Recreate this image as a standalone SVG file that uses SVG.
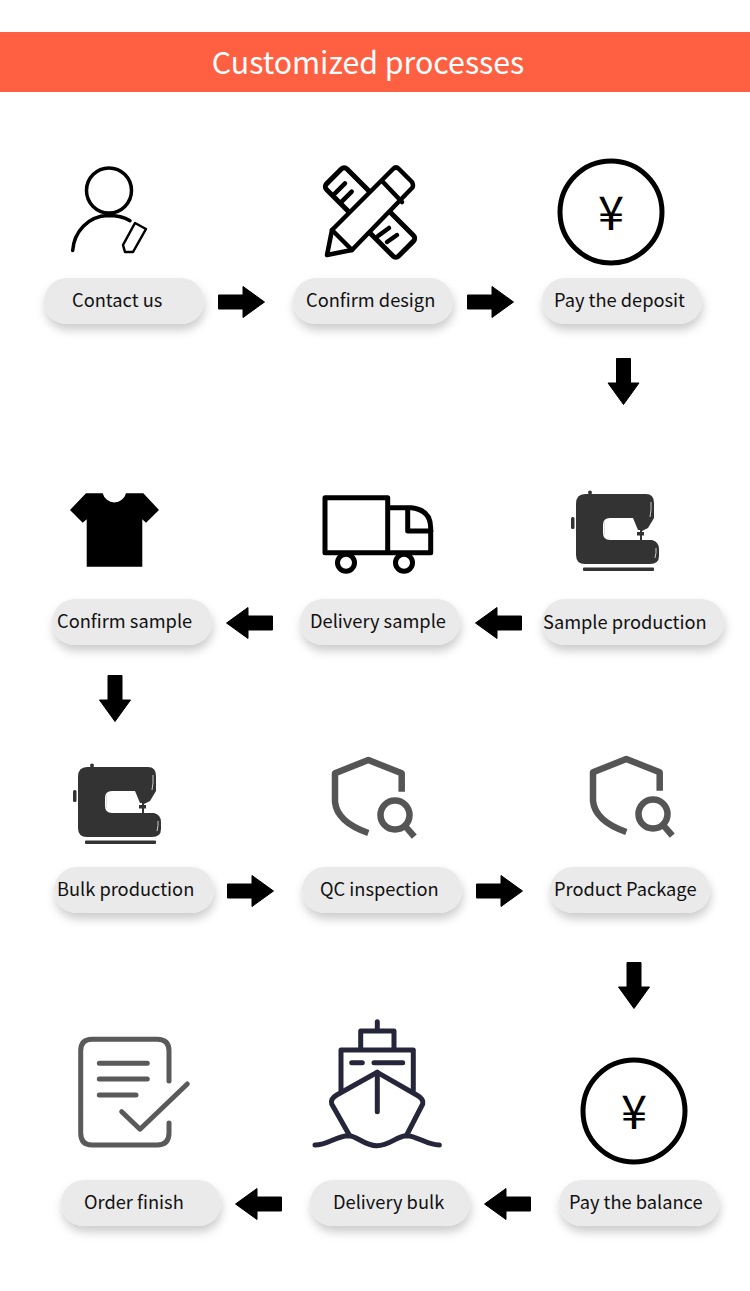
<svg xmlns="http://www.w3.org/2000/svg" xmlns:xlink="http://www.w3.org/1999/xlink" width="750" height="1291" viewBox="0 0 750 1291">
<style>
text{font-family:"Noto Sans CJK SC","Noto Sans",sans-serif;fill:#111}
.lbl{font-size:18.250px}
.pill{fill:#eaeaea;filter:url(#sh)}
.k{fill:none;stroke:#000;stroke-width:5;stroke-linecap:round;stroke-linejoin:round}
.g{fill:none;stroke:#555;stroke-width:6.500;stroke-linejoin:round}
.d{fill:none;stroke:#5a5a5a;stroke-width:5;stroke-linecap:round;stroke-linejoin:round}
.s{fill:none;stroke:#26263a;stroke-width:5;stroke-linecap:round;stroke-linejoin:round}
</style>
<defs>
<filter id="sh" x="-15%" y="-40%" width="130%" height="200%"><feDropShadow dx="1" dy="6" stdDeviation="5" flood-color="#000" flood-opacity=".2"/></filter>
<path id="ar" d="M-23-7H1.500V-15.500L23 0 1.500 15.500V7H-23Z" fill="#000" stroke="#000" stroke-linejoin="round"/>
<g id="coin"><circle r="51" fill="#fff" stroke="#000" stroke-width="5"/><text y="18" text-anchor="middle" font-size="47" style="fill:#000">¥</text></g>
<g id="sew">
<path fill="#333" d="M585 494H646Q654 494 654 503V518L648 528 642 531V540H652Q659 542 659 549V556Q659 564 650 564H585Q576 564 576 555V504Q576 494 585 494Z"/>
<path fill="#fff" d="M610 518H633L638 530H640V540H610Q603 540 603 533V525Q603 518 610 518Z"/>
<path fill="#333" d="M637 532H644V535.500H637Z"/>
<rect x="571" y="517" width="3.500" height="12" rx="1.500" fill="#333"/>
<circle cx="590" cy="492.500" r="2" fill="#333"/>
<rect x="583" y="567.500" width="71" height="3.500" rx="1" fill="#333"/>
<path d="M651 502Q651.500 510 650 517M656 548Q656.500 552 655 558M604.500 522V535" fill="none" stroke="#ddd" stroke-width=".9"/>
</g>
<g id="shield">
<path class="g" d="M401.700 791.700V773.300L368.300 760 335 773.300V802Q337 822 368.300 833"/>
<circle class="g" cx="395" cy="815" r="14.500"/>
<path class="g" d="M405.500 826.500L414.300 836.700"/>
</g>
</defs>
<rect width="750" height="1291" fill="#fff"/>
<g id="banner"><rect y="32" width="750" height="60" fill="#ff6042"/><text x="368" y="74" text-anchor="middle" font-size="30.300" style="fill:#fff">Customized processes</text></g>

<g id="connectors">
<use xlink:href="#ar" href="#ar" transform="translate(241.500 302)"/>
<use xlink:href="#ar" href="#ar" transform="translate(490.500 302)"/>
<use xlink:href="#ar" href="#ar" transform="translate(623.500 381.500) rotate(90)"/>
<use xlink:href="#ar" href="#ar" transform="translate(498.500 623) rotate(180)"/>
<use xlink:href="#ar" href="#ar" transform="translate(249.500 623) rotate(180)"/>
<use xlink:href="#ar" href="#ar" transform="translate(115 698.500) rotate(90)"/>
<use xlink:href="#ar" href="#ar" transform="translate(250.500 891)"/>
<use xlink:href="#ar" href="#ar" transform="translate(499.500 891)"/>
<use xlink:href="#ar" href="#ar" transform="translate(634 985.500) rotate(90)"/>
<use xlink:href="#ar" href="#ar" transform="translate(507.500 1204) rotate(180)"/>
<use xlink:href="#ar" href="#ar" transform="translate(258.500 1204) rotate(180)"/>
</g>

<g id="contact-us">
<circle class="k" cx="109" cy="190.500" r="22.500" style="stroke-width:3.500"/>
<path class="k" style="stroke-width:3.500" d="M72.700 250.500C74 232 88 216 108 215.500 116 215.500 124 217 130 220.700"/>
<path class="k" style="stroke-width:2.500" d="M135 223L146 229 133 252H125L123 245Z"/>
<rect class="pill" x="44" y="278" width="160" height="46" rx="23"/><text class="lbl" x="72" y="307">Contact us</text>
</g>
<g id="confirm-design">
<rect class="k" transform="rotate(45 370 212.500)" x="319" y="198" width="102" height="29" rx="4"/>
<path class="k" style="stroke-width:4.500" d="M335 193.300L345 183.300M341.700 201.700L351.700 191.700M378 236L389 228M387 242L397 235"/>
<path class="k" style="fill:#fff;stroke-width:4.500" d="M393 169Q396 166 399 169L412 182Q414 186 412 188L352 250 327 255 332 230Z"/>
<path class="k" style="stroke-width:4.500" d="M383 182L402 202M332 230L352 250"/>
<rect class="pill" x="293" y="278" width="160" height="46" rx="23"/><text class="lbl" x="306" y="307">Confirm design</text>
</g>
<g id="pay-deposit">
<use xlink:href="#coin" href="#coin" transform="translate(611 212)"/>
<rect class="pill" x="542" y="278" width="160" height="46" rx="23"/><text class="lbl" x="554" y="307">Pay the deposit</text>
</g>
<g id="sample-production">
<use xlink:href="#sew" href="#sew"/>
<rect class="pill" x="542" y="599" width="182" height="46" rx="23"/><text class="lbl" x="543" y="629">Sample production</text>
</g>
<g id="delivery-sample">
<path class="k" d="M325 497.700H387.700V552.700H325ZM388 507.700H411.700Q430.700 510 430.700 528V552.700H388M407.700 510V531H431M338 552.700H354M396 552.700H412"/>
<circle class="k" cx="346" cy="562.700" r="8.500"/><circle class="k" cx="404" cy="562.700" r="8.500"/>
<rect class="pill" x="300" y="599" width="160" height="46" rx="23"/><text class="lbl" x="310" y="628">Delivery sample</text>
</g>
<g id="confirm-sample">
<path fill="#000" d="M86 493.300H102.700A12 12 0 0 0 126 493.300H143.300L159 510 146 522.700 142.300 519.300V566.700H86.700V519.300L82.700 522.700 70 510Z"/>
<rect class="pill" x="52" y="599" width="160" height="46" rx="23"/><text class="lbl" x="57" y="628">Confirm sample</text>
</g>
<g id="bulk-production">
<use xlink:href="#sew" href="#sew" transform="translate(-498 273)"/>
<rect class="pill" x="54" y="867" width="160" height="46" rx="23"/><text class="lbl" x="57" y="896">Bulk production</text>
</g>
<g id="qc-inspection">
<use xlink:href="#shield" href="#shield"/>
<rect class="pill" x="302" y="867" width="160" height="46" rx="23"/><text class="lbl" x="320" y="896">QC inspection</text>
</g>
<g id="product-package">
<use xlink:href="#shield" href="#shield" transform="translate(258 -1)"/>
<rect class="pill" x="550" y="867" width="160" height="46" rx="23"/><text class="lbl" x="554" y="896">Product Package</text>
</g>
<g id="pay-balance">
<use xlink:href="#coin" href="#coin" transform="translate(634 1111)"/>
<rect class="pill" x="559" y="1180" width="160" height="46" rx="23"/><text class="lbl" x="569" y="1209">Pay the balance</text>
</g>
<g id="delivery-bulk">
<path class="s" d="M377.300 1021.700V1031M360.700 1048V1031H394V1048M341 1090V1050H413.300V1090M351.700 1062.700H362.300M374 1062.700H402.700M377.300 1072.300V1111.700"/>
<path class="s" d="M377.300 1072.300L416.700 1095Q424 1099 422.700 1104L406.700 1135M377.300 1072.300L336.700 1095Q330 1099 331.700 1104L349.300 1135"/>
<path class="s" d="M315 1145C328 1145 336 1136 348.300 1135.700 358 1136 364 1145.700 376.700 1145.700 390 1145.700 396 1136 406.700 1135.700 418 1136 426 1145 439.300 1145"/>
<rect class="pill" x="310" y="1180" width="160" height="46" rx="23"/><text class="lbl" x="333" y="1209">Delivery bulk</text>
</g>
<g id="order-finish">
<path class="d" d="M169 1081V1051Q169 1039.300 157 1039.300H92Q80.700 1039.300 80.700 1051V1133Q80.700 1145 92 1145H157Q169 1145 169 1133V1123M99.300 1063.300H147.300M99.300 1079H147.300M99.300 1095H136M121.700 1111.700L140 1129.300 187.300 1084"/>
<rect class="pill" x="61" y="1180" width="160" height="46" rx="23"/><text class="lbl" x="84" y="1209">Order finish</text>
</g>
</svg>
